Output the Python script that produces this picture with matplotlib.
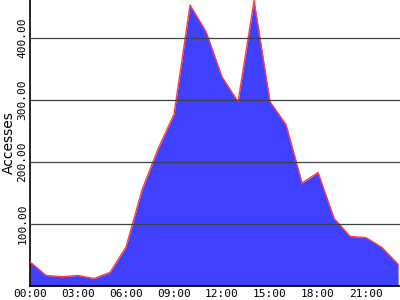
import numpy as np
import matplotlib
matplotlib.use("Agg")
import matplotlib.pyplot as plt

# hourly access counts
hours = list(range(24))
accesses = [39, 17, 15, 17, 12, 22, 63, 155, 221, 277, 453, 410,
            337, 297, 460, 297, 260, 166, 183, 109, 80, 78, 62, 35]
hour_labels = ["00:00", "03:00", "06:00", "09:00", "12:00", "15:00", "18:00", "21:00"]
y_ticks = [100, 200, 300, 400]

fig = plt.figure(figsize=(4, 3), dpi=100)
ax = fig.add_axes([0.075, 0.0467, 0.925, 0.9533])

ax.fill_between(hours, accesses, 0, color="#4040ff", linewidth=0, zorder=2)
ax.plot(hours, accesses, color="#ff4040", linewidth=1, zorder=3)

for v in y_ticks:
    ax.axhline(v, color="#404040", linewidth=0.9, zorder=4)

ax.set_xlim(0, 23.12)
ax.set_ylim(0, 461)
ax.set_xticks(hours[::3])
ax.set_xticklabels(hour_labels, family="DejaVu Sans Mono", fontsize=8)
ax.set_yticks(y_ticks)
ax.set_yticklabels([f"{v:.2f}" for v in y_ticks], family="DejaVu Sans Mono",
                   fontsize=8, rotation=90, va="center")
ax.tick_params(length=0, pad=2)
ax.set_ylabel("Accesses", fontsize=10, labelpad=1)

for s in ["top", "right"]:
    ax.spines[s].set_visible(False)
for s in ["left", "bottom"]:
    ax.spines[s].set_color("black")
    ax.spines[s].set_linewidth(1.2)

fig.savefig("out.png", dpi=100)
